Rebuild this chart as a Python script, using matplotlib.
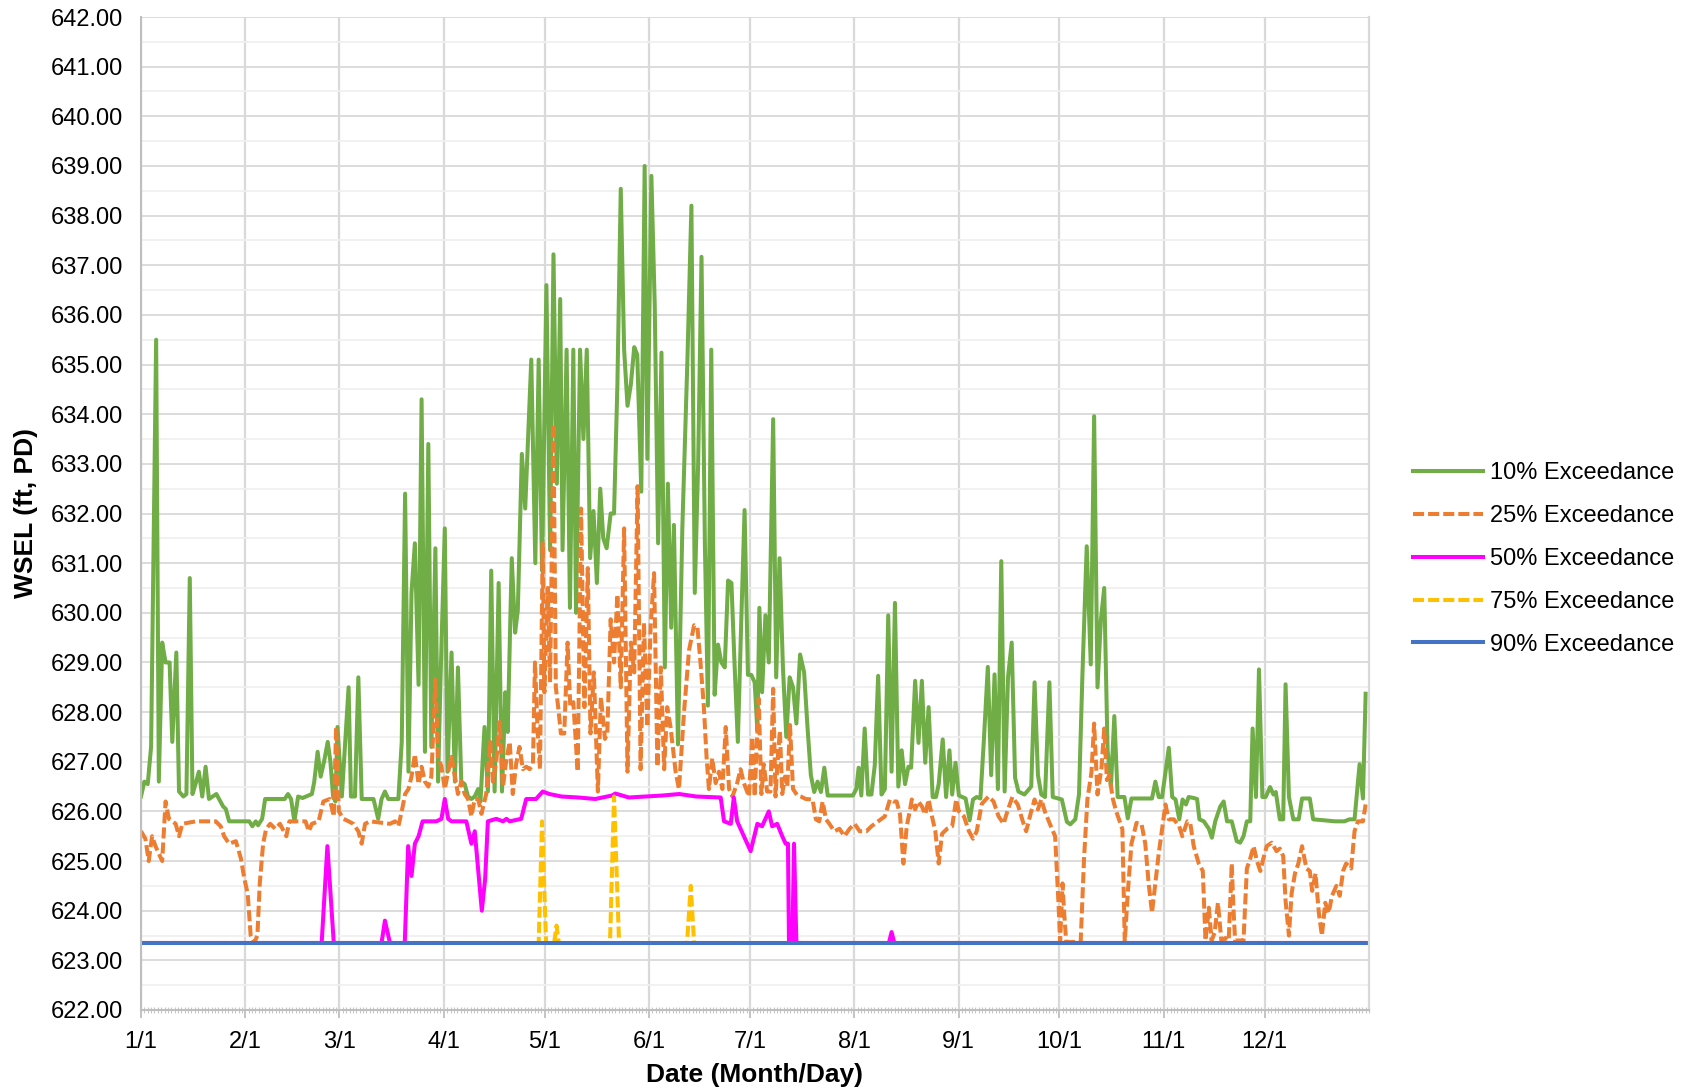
import matplotlib
matplotlib.use("Agg")
import matplotlib.pyplot as plt
from matplotlib.ticker import MultipleLocator, FormatStrFormatter

plt.rcParams['font.family'] = ['Liberation Sans', 'DejaVu Sans']

# day of year (0 = Jan 1) for each month start
month_days = [0, 31, 59, 90, 120, 151, 181, 212, 243, 273, 304, 334]
month_labels = ['1/1', '2/1', '3/1', '4/1', '5/1', '6/1',
                '7/1', '8/1', '9/1', '10/1', '11/1', '12/1']

# (day, WSEL) vertices for each exceedance series
exc10 = [
    (0, 626.3), (1, 626.6), (2, 626.55), (3, 627.3), (4.5, 635.5), (5.3, 626.6),
    (6.3, 629.4), (7.3, 629.0), (8.5, 629.0), (9.3, 627.4), (10.5, 629.2), (11.3, 626.4),
    (12.6, 626.3), (13.5, 626.35), (14.5, 630.7), (15.3, 626.35), (16.2, 626.55),
    (17.2, 626.8), (18.2, 626.3), (19.2, 626.9), (20.2, 626.25), (22.4, 626.35),
    (24.4, 626.1), (25.2, 626.05), (26.2, 625.8), (32.2, 625.8), (33.1, 625.7),
    (34.1, 625.8), (34.8, 625.72), (36.0, 625.85), (36.9, 626.25), (42.7, 626.25),
    (43.7, 626.35), (44.6, 626.25), (45.6, 625.8), (46.7, 626.3), (48, 626.27),
    (50.8, 626.35), (51.5, 626.6), (52.5, 627.2), (53.4, 626.7), (54.4, 627.0),
    (55.5, 627.4), (56.3, 627.0), (57.1, 626.3), (57.8, 626.2), (58.4, 627.7),
    (59.7, 626.3), (61.7, 628.5), (62.4, 626.3), (63.6, 626.3), (64.6, 628.7),
    (65.6, 626.25), (69.1, 626.25), (70.5, 625.85), (71.5, 626.25), (72.5, 626.4),
    (73.5, 626.25), (76.5, 626.25), (77.5, 627.4), (78.5, 632.4), (79.5, 626.8),
    (80.4, 630.4), (81.4, 631.4), (82.5, 628.55), (83.4, 634.3), (84.4, 627.2),
    (85.4, 633.4), (86.3, 627.3), (87.5, 631.3), (88.3, 626.6), (89.0, 628.6),
    (90.3, 631.7), (91.1, 626.8), (92.3, 629.2), (93.3, 626.6), (94.2, 628.9),
    (95.2, 626.6), (96.2, 626.55), (97.2, 626.3), (98.2, 626.25), (99.2, 626.3),
    (100.2, 626.45), (100.9, 626.2), (102.1, 627.7), (103.1, 626.4), (104.1, 630.85),
    (105.1, 626.4), (106.3, 630.6), (107.3, 626.4), (108.3, 628.4), (109.0, 627.6),
    (110.2, 631.1), (111.2, 629.6), (112.0, 630.05), (113.2, 633.2), (114.2, 632.1),
    (116.0, 635.1), (117.2, 631.0), (118.2, 635.1), (119.2, 630.85), (120.5, 636.6),
    (121.6, 631.26), (122.6, 637.22), (123.6, 632.6), (124.6, 636.32), (125.3, 631.26),
    (126.5, 635.3), (127.5, 630.1), (128.5, 635.3), (129.3, 630.0), (130.5, 635.3),
    (131.5, 633.5), (132.5, 635.3), (133.5, 631.1), (134.5, 632.05), (135.5, 630.6),
    (136.5, 632.5), (137.4, 631.5), (138.4, 631.3), (139.6, 632.0), (140.6, 632.0),
    (141.6, 634.6), (142.6, 638.54), (143.6, 635.3), (144.6, 634.17), (145.6, 634.6),
    (146.6, 635.35), (147.5, 635.2), (148.7, 632.44), (149.7, 639.0), (150.5, 633.1),
    (151.7, 638.8), (152.7, 636.19), (153.7, 631.4), (154.7, 635.24), (155.7, 628.9),
    (156.6, 632.6), (157.6, 629.7), (158.4, 631.77), (159.6, 627.35), (160.9, 631.7),
    (162.4, 635.07), (163.6, 638.2), (164.6, 630.4), (165.6, 633.0), (166.6, 637.17),
    (167.6, 631.4), (168.5, 628.13), (169.5, 635.3), (170.5, 628.35), (171.5, 629.36),
    (172.5, 629.0), (173.5, 628.9), (174.5, 630.65), (175.5, 630.6), (176.4, 629.0),
    (177.4, 627.4), (178.4, 629.8), (179.4, 632.07), (180.4, 628.75), (181.4, 628.75),
    (182.4, 628.6), (183.2, 627.63), (183.8, 630.1), (184.6, 628.4), (185.6, 629.95),
    (186.6, 629.0), (187.9, 633.9), (188.8, 628.7), (189.8, 631.1), (190.8, 628.9),
    (191.8, 627.5), (192.8, 628.7), (193.8, 628.5), (194.8, 627.77), (195.9, 629.16),
    (197.1, 628.8), (198.1, 627.7), (199.1, 626.73), (200.1, 626.39), (201.1, 626.6),
    (202.1, 626.39), (203.1, 626.88), (204.1, 626.32), (211.6, 626.32), (212.6, 626.45),
    (213.3, 626.88), (214.1, 626.32), (215.1, 627.67), (216.1, 626.34), (217.1, 626.34),
    (218.1, 626.93), (219.1, 628.73), (220.1, 626.34), (221.1, 626.45), (222.1, 629.95),
    (223.1, 626.8), (224.1, 630.2), (225.1, 626.5), (226.1, 627.23), (227.1, 626.55),
    (228.1, 626.9), (228.9, 626.88), (230.1, 628.63), (231.1, 627.38), (232.1, 628.63),
    (233.1, 626.98), (234.1, 628.1), (235.3, 626.29), (236.3, 626.29), (237.1, 626.55),
    (238.3, 627.45), (239.3, 626.29), (240.3, 627.23), (241.1, 626.34), (242.1, 626.98),
    (243.1, 626.32), (245.1, 626.26), (246.3, 625.82), (247.3, 626.24), (248.4, 626.29),
    (249.5, 626.26), (250.5, 627.4), (251.7, 628.91), (252.7, 626.73), (253.7, 628.76),
    (254.7, 626.45), (255.7, 631.04), (256.7, 626.4), (257.7, 628.7), (258.8, 629.4),
    (259.8, 626.68), (260.8, 626.4), (262.6, 626.34), (264.6, 626.5), (265.6, 628.6),
    (266.6, 626.73), (267.6, 626.34), (268.7, 626.29), (270.0, 628.6), (271.0, 626.29),
    (273.7, 626.24), (275.2, 625.79), (276.2, 625.74), (277.7, 625.84), (278.8, 626.34),
    (279.8, 628.71), (281.1, 631.34), (282.3, 628.96), (283.3, 633.96), (284.3, 628.5),
    (285.3, 629.85), (286.3, 630.5), (287.3, 627.23), (288.3, 626.5), (289.3, 627.92),
    (290.3, 626.29), (292.3, 626.29), (293.3, 625.86), (294.4, 626.26), (300.5, 626.26),
    (301.5, 626.6), (302.5, 626.29), (303.5, 626.29), (305.5, 627.28), (306.5, 626.29),
    (307.5, 626.24), (308.6, 625.84), (309.6, 626.24), (310.6, 626.14), (311.4, 626.29),
    (312.9, 626.27), (313.9, 626.25), (314.6, 625.84), (315.9, 625.8), (317.4, 625.65),
    (318.3, 625.47), (319.3, 625.8), (320.8, 626.1), (321.8, 626.2), (322.8, 625.8),
    (324.2, 625.8), (325.7, 625.4), (326.7, 625.37), (327.7, 625.5), (328.7, 625.8),
    (329.7, 625.8), (330.4, 627.67), (331.4, 626.29), (332.3, 628.86), (333.3, 626.29),
    (334.3, 626.29), (335.6, 626.49), (336.6, 626.34), (337.3, 626.39), (338.5, 625.84),
    (339.5, 625.84), (340.2, 628.56), (341.2, 626.29), (342.5, 625.84), (344.1, 625.84),
    (345.1, 626.26), (347.4, 626.26), (348.4, 625.84), (351.8, 625.82), (354.8, 625.8),
    (357.7, 625.8), (359.2, 625.84), (360.7, 625.84), (362.2, 626.95), (363.2, 626.26),
    (364, 628.37),
]

exc25 = [
    (0, 625.6), (1.3, 625.45), (2.3, 625.0), (3.3, 625.5), (4.3, 625.3), (5.3, 625.15),
    (6.3, 625.0), (7.3, 626.2), (8.3, 625.85), (10.3, 625.75), (11.3, 625.5),
    (12.3, 625.75), (16.3, 625.8), (22.2, 625.8), (23.7, 625.7), (24.7, 625.5),
    (26.2, 625.35), (28.2, 625.4), (29.7, 625.05), (30.7, 624.65), (31.7, 624.35),
    (32.6, 623.5), (33.6, 623.35), (34.6, 623.5), (35.3, 624.55), (36.3, 625.35),
    (37.2, 625.65), (38.4, 625.75), (39.9, 625.65), (41.3, 625.75), (43.2, 625.5),
    (44.1, 625.8), (48.9, 625.8), (49.9, 625.6), (50.8, 625.75), (52.8, 625.8),
    (54.2, 626.2), (56.1, 626.25), (57.3, 625.9), (58.0, 627.7), (58.8, 626.0),
    (60.2, 625.85), (61.7, 625.8), (63.1, 625.75), (64.6, 625.6), (65.6, 625.35),
    (66.6, 625.75), (68.1, 625.8), (74, 625.75), (75.5, 625.8), (76.5, 625.7),
    (77.5, 626.0), (78.5, 626.35), (79.5, 626.45), (80.4, 626.7), (81.4, 627.15),
    (82.5, 626.55), (83.4, 626.9), (84.4, 626.6), (85.4, 626.5), (86.3, 626.7),
    (87.5, 628.65), (88.3, 627.1), (89.3, 626.9), (90.3, 626.45), (91.3, 626.8),
    (92.3, 627.1), (93.3, 626.7), (94.2, 626.35), (95.2, 626.6), (96.2, 626.35),
    (97.2, 626.25), (98.2, 625.9), (99.2, 626.25), (100.2, 626.25), (101.2, 625.95),
    (102.6, 626.35), (103.8, 627.4), (104.6, 626.6), (105.6, 627.0), (106.6, 627.8),
    (107.6, 626.5), (108.6, 627.05), (109.6, 627.4), (110.5, 626.35), (111.5, 626.95),
    (112.5, 627.3), (113.5, 626.85), (114.5, 626.9), (115.5, 626.85), (116.5, 626.95),
    (117.1, 629.0), (117.9, 627.6), (118.6, 626.85), (119.4, 631.4), (119.9, 628.4),
    (120.9, 630.5), (121.6, 628.6), (122.6, 633.8), (123.3, 628.5), (124, 628.1),
    (124.8, 627.57), (125.8, 627.57), (126.8, 629.4), (127.6, 628.1), (128.5, 628.2),
    (129.8, 626.8), (130.8, 632.1), (131.8, 628.1), (132.8, 630.9), (133.6, 627.57),
    (134.6, 628.8), (135.8, 626.4), (136.7, 628.3), (137.9, 627.46), (138.6, 627.57),
    (139.6, 629.87), (140.6, 629.0), (141.6, 630.37), (142.6, 628.5), (143.6, 631.7),
    (144.6, 626.8), (145.6, 629.4), (146.6, 628.8), (147.6, 632.55), (148.5, 626.85),
    (149.5, 629.8), (150.5, 627.7), (151.5, 629.75), (152.5, 630.8), (153.5, 626.9),
    (154.5, 628.9), (155.5, 626.85), (156.4, 628.1), (157.4, 627.7), (158.9, 626.8),
    (159.9, 626.45), (161.4, 628.0), (162.9, 629.25), (164.4, 629.75), (165.4, 629.7),
    (166.3, 629.0), (167.3, 628.1), (168.1, 627.1), (168.8, 626.45), (169.8, 627.07),
    (170.8, 626.57), (171.8, 626.8), (172.8, 626.45), (173.8, 627.7), (174.8, 626.45),
    (175.8, 626.3), (177.2, 626.57), (178.2, 626.85), (179.2, 626.57), (180.7, 626.3),
    (181.7, 627.5), (182.4, 626.3), (183.6, 628.27), (184.4, 626.35), (185.1, 626.95),
    (186.1, 626.4), (187.1, 626.4), (187.9, 628.47), (188.6, 626.3), (189.3, 627.1),
    (189.9, 627.62), (190.6, 626.35), (191.4, 626.7), (192.1, 626.5), (192.9, 627.74),
    (193.8, 626.45), (195.1, 626.32), (196.1, 626.3), (197.6, 626.25), (199.6, 626.24),
    (200.6, 625.84), (201.6, 625.8), (202.6, 626.2), (203.6, 625.84), (204.6, 625.75),
    (206.1, 625.6), (207.6, 625.65), (209.1, 625.5), (210.6, 625.65), (212.1, 625.75),
    (213.6, 625.6), (215.6, 625.6), (217.1, 625.7), (219.1, 625.8), (221.1, 625.9),
    (222.6, 626.24), (223.6, 626.2), (224.6, 626.2), (225.6, 625.94), (226.6, 624.95),
    (227.6, 625.7), (228.6, 626.04), (229.1, 626.24), (230.1, 626.04), (231.1, 626.2),
    (232.1, 626.1), (233.1, 625.94), (234.1, 626.24), (235.1, 625.9), (236.1, 625.6),
    (237.1, 624.95), (238.1, 625.55), (239.6, 625.65), (241.1, 625.7), (242.3, 626.24),
    (243.1, 626.0), (244.6, 625.9), (246.1, 625.6), (247.3, 625.45), (248.4, 625.6),
    (249.9, 626.15), (251.9, 626.3), (253.4, 626.2), (254.9, 625.9), (256.4, 625.75),
    (257.5, 626.0), (259, 626.29), (260.6, 626.14), (262.1, 625.8), (263.1, 625.6),
    (264.6, 626.0), (265.6, 626.24), (266.6, 626.04), (267.6, 626.24), (268.7, 625.99),
    (270.2, 625.74), (271.7, 625.5), (272.7, 624.16), (273.2, 623.37), (273.9, 624.55),
    (274.4, 623.96), (275, 623.37), (279.3, 623.37), (280.3, 625.05), (281.3, 626.24),
    (282.5, 626.78), (283.3, 627.77), (284.3, 626.34), (285.5, 626.88), (286.3, 627.67),
    (287.1, 626.63), (287.8, 626.73), (288.9, 626.24), (289.9, 625.99), (290.9, 625.8),
    (291.7, 625.64), (292.4, 623.37), (293.4, 624.45), (294.4, 625.35), (295.9, 625.77),
    (297.4, 625.74), (298.5, 625.35), (299.5, 624.55), (300.5, 623.96), (301.5, 624.55),
    (302.5, 625.15), (303.5, 625.64), (304.5, 626.14), (305.5, 625.84), (307, 625.84),
    (308.6, 625.7), (309.5, 625.5), (311, 625.8), (311.9, 625.75), (312.9, 625.3),
    (314.4, 624.95), (315.6, 624.8), (316.4, 623.4), (317.4, 624.06), (318.2, 623.4),
    (319.1, 623.55), (320.1, 624.16), (321.1, 623.4), (322.3, 623.45), (323.3, 623.4),
    (324.2, 624.95), (324.7, 624.06), (325.2, 623.4), (327.7, 623.4), (328.7, 624.85),
    (329.7, 625.05), (330.7, 625.3), (331.7, 625.0), (332.7, 624.8), (333.6, 625.05),
    (334.6, 625.3), (336.1, 625.37), (337.5, 625.2), (338.5, 625.25), (339.5, 625.1),
    (340.2, 624.2), (341.2, 623.5), (342, 624.35), (343, 624.75), (344, 624.95),
    (345.1, 625.3), (346.4, 624.85), (347.4, 624.8), (348.1, 624.4), (349.1, 624.75),
    (350.1, 623.95), (351.0, 623.5), (352.0, 624.16), (353.0, 623.95), (354.0, 624.3),
    (355.3, 624.5), (356.3, 624.3), (357.3, 624.8), (358.2, 624.95), (359.7, 624.85),
    (360.7, 625.6), (361.7, 625.8), (363.2, 625.8), (364, 626.14),
]

exc50 = [
    (0, 623.35), (53.7, 623.35), (55.4, 625.3), (57.3, 623.35), (71.5, 623.35),
    (72.5, 623.8), (74, 623.35), (78.4, 623.35), (79.4, 625.3), (80.4, 624.7),
    (81.4, 625.35), (82.5, 625.5), (83.7, 625.8), (87.8, 625.8), (89.3, 625.85),
    (90.3, 626.25), (91.3, 625.85), (92.3, 625.8), (96.7, 625.8), (98.2, 625.35),
    (99.2, 625.6), (101.3, 624.0), (102.3, 624.65), (103.1, 625.8), (105.6, 625.85),
    (107.6, 625.8), (108.6, 625.85), (109.6, 625.8), (113, 625.85), (114.5, 626.25),
    (117.4, 626.25), (119.4, 626.4), (121.4, 626.35), (125, 626.3), (130, 626.28),
    (135, 626.25), (140, 626.32), (141, 626.36), (145, 626.28), (150, 626.3),
    (155, 626.32), (160, 626.35), (165, 626.3), (172.3, 626.28), (173.3, 625.8),
    (175.3, 625.75), (176.2, 626.28), (177.2, 625.8), (179.2, 625.5), (181.2, 625.2),
    (183.2, 625.75), (184.6, 625.7), (186.6, 626.0), (187.6, 625.7), (189.1, 625.75),
    (190.6, 625.5), (191.6, 625.35), (192.3, 625.35), (192.6, 623.35), (193.6, 623.35),
    (194.1, 625.35), (194.8, 623.35), (222.3, 623.35), (223.1, 623.57), (223.9, 623.35),
    (364, 623.35),
]

exc75 = [
    (0, 623.35), (118.2, 623.35), (119.2, 625.8), (120.4, 623.35), (122.8, 623.35),
    (123.5, 623.7), (124.2, 623.35), (139.4, 623.35), (140.6, 626.3), (142.1, 623.35),
    (162.3, 623.35), (163.4, 624.5), (164.4, 623.35), (364, 623.35),
]

exc90 = [(0, 623.35), (364, 623.35)]

dash = (0, (2.75, 1.0))
series = [
    ('10% Exceedance', exc10, '#70ad47', '-'),
    ('25% Exceedance', exc25, '#ed7d31', dash),
    ('50% Exceedance', exc50, '#ff00ff', '-'),
    ('75% Exceedance', exc75, '#ffc000', dash),
    ('90% Exceedance', exc90, '#4472c4', '-'),
]

fig = plt.figure(figsize=(16.9, 10.92), dpi=100)
ax = fig.add_axes([141 / 1690, 1 - 1010 / 1092, 1228 / 1690, 993 / 1092])

for name, pts, color, ls in series:
    x, y = zip(*pts)
    ax.plot(x, y, color=color, lw=2.9, linestyle=ls, label=name,
            solid_joinstyle='round', dash_capstyle='butt')

ax.set_xlim(0, 365)
ax.set_ylim(622, 642)

ax.set_yticks(range(622, 643))
ax.yaxis.set_major_formatter(FormatStrFormatter('%.2f'))
ax.yaxis.set_minor_locator(MultipleLocator(0.5))
ax.set_xticks(month_days)
ax.set_xticklabels(month_labels)
ax.xaxis.set_minor_locator(MultipleLocator(1))

ax.set_axisbelow(True)
ax.grid(which='major', axis='y', color='#d9d9d9', lw=1.3)
ax.grid(which='minor', axis='y', color='#f0f0f0', lw=1.3)
ax.grid(which='major', axis='x', color='#d9d9d9', lw=1.6)

ax.tick_params(axis='y', which='both', length=0, pad=13, labelsize=17)
ax.tick_params(axis='x', which='major', length=6, width=1.3, color='#bfbfbf',
               pad=9, labelsize=17)
ax.tick_params(axis='x', which='minor', length=5, width=0.8, color='#c8c8c8',
               direction='inout')

for side in ['left', 'bottom']:
    ax.spines[side].set_color('#bfbfbf')
    ax.spines[side].set_linewidth(1.5)
ax.spines['right'].set_color('#d9d9d9')
ax.spines['right'].set_linewidth(1.6)
ax.spines['top'].set_visible(False)

ax.set_ylabel('WSEL (ft, PD)', fontsize=19, fontweight='bold')
ax.yaxis.set_label_coords(-0.084, 0.5)
ax.set_xlabel('Date (Month/Day)', fontsize=19, fontweight='bold')
ax.xaxis.set_label_coords(0.5, -0.053)

fig.legend(loc='center left', bbox_to_anchor=(1413 / 1690, 1 - 559 / 1092),
           frameon=False, fontsize=17, handlelength=2.95, handletextpad=0.3,
           labelspacing=0.88, borderpad=0, borderaxespad=0)

fig.savefig('out.png', dpi=100)
